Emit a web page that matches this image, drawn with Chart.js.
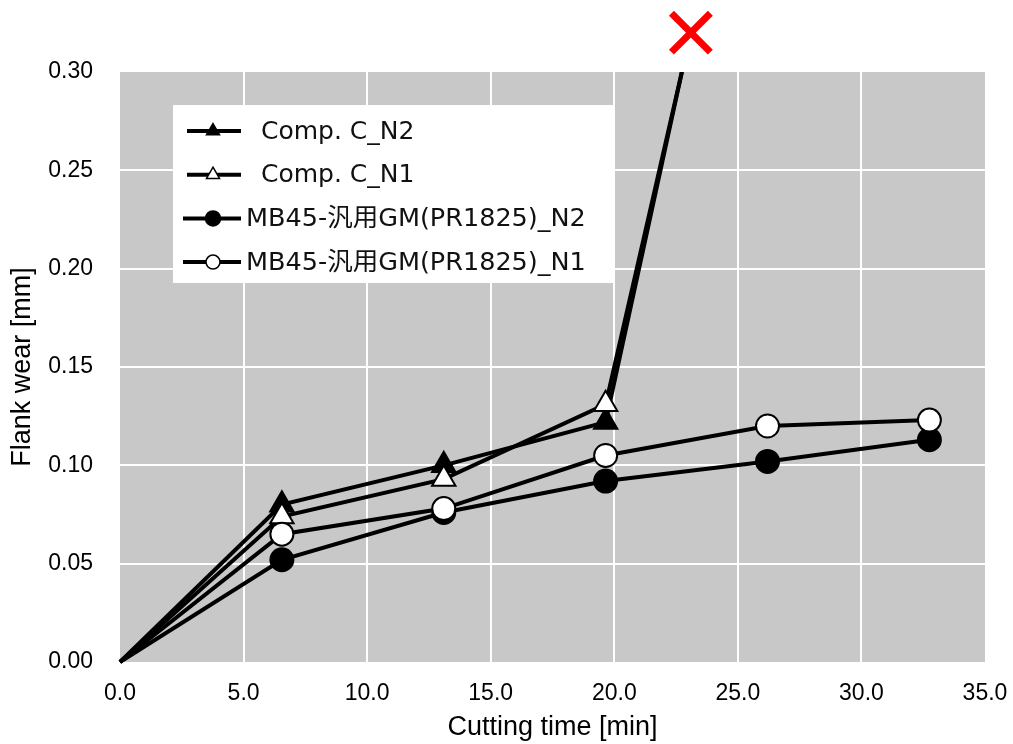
<!DOCTYPE html>
<html><head><meta charset="utf-8">
<script src="https://cdn.jsdelivr.net/npm/chart.js@4.4.1/dist/chart.umd.min.js"></script>
<style>html,body{margin:0;padding:0;background:#fff;overflow:hidden}#wrap{width:1013px;height:744px;overflow:hidden}</style>
</head><body><div id="wrap"><canvas id="c" width="1037" height="744"></canvas></div>
<script>
// ---- data ----
const seriesNames = ['Comp. C_N2', 'Comp. C_N1', 'MB45-汎用GM(PR1825)_N2', 'MB45-汎用GM(PR1825)_N1'];
const compTimes = [0, 6.55, 13.1, 19.65, 26.2];
const compN2Wear = [0, 0.080, 0.100, 0.122, 0.50];
const compN1Wear = [0, 0.074, 0.093, 0.131, 0.49];
const mbTimes = [0, 6.55, 13.1, 19.65, 26.2, 32.75];
const mbN2Wear = [0, 0.052, 0.076, 0.092, 0.102, 0.113];
const mbN1Wear = [0, 0.065, 0.078, 0.105, 0.120, 0.123];
const failureTime = [23.1];
const failureWear = [0.32];
const xTickLabels = ['0.0', '5.0', '10.0', '15.0', '20.0', '25.0', '30.0', '35.0'];
const yTickLabels = ['0.00', '0.05', '0.10', '0.15', '0.20', '0.25', '0.30'];
const xTitle = 'Cutting time [min]';
const yTitle = 'Flank wear [mm]';

const pts = (xs, ys) => xs.map((x, i) => ({x: x, y: ys[i]}));

const plotBg = {
  id: 'plotBg',
  beforeDraw(chart) {
    const {ctx, chartArea: a} = chart;
    ctx.save();
    ctx.fillStyle = '#c8c8c8';
    ctx.fillRect(a.left, a.top, a.right - a.left, a.bottom - a.top);
    ctx.restore();
  }
};

function drawMarker(ctx, style, x, y, r) {
  ctx.beginPath();
  if (style === 'triangle') {
    let rad = 0;
    ctx.moveTo(x + Math.sin(rad) * r, y - Math.cos(rad) * r);
    rad += 2 * Math.PI / 3;
    ctx.lineTo(x + Math.sin(rad) * r, y - Math.cos(rad) * r);
    rad += 2 * Math.PI / 3;
    ctx.lineTo(x + Math.sin(rad) * r, y - Math.cos(rad) * r);
    ctx.closePath();
  } else {
    ctx.arc(x, y, r, 0, Math.PI * 2);
  }
  ctx.fill();
  ctx.stroke();
}

const insideLegend = {
  id: 'insideLegend',
  afterDatasetsDraw(chart, args, o) {
    const {ctx, chartArea: a} = chart;
    const x0 = a.left + o.offsetX, y0 = a.top + o.offsetY;
    ctx.save();
    ctx.fillStyle = '#ffffff';
    ctx.fillRect(x0, y0, o.width, o.height);
    ctx.textBaseline = 'middle';
    ctx.textAlign = 'left';
    let k = 0;
    chart.data.datasets.forEach(ds => {
      if (!ds.legendEntry) return;
      const ls = ds.legendEntry;
      const cy = y0 + o.firstRow + k * o.rowGap;
      ctx.strokeStyle = ds.borderColor;
      ctx.lineWidth = o.lineWidth;
      ctx.beginPath();
      ctx.moveTo(x0 + ls.lineStart, cy);
      ctx.lineTo(x0 + o.lineEnd, cy);
      ctx.stroke();
      ctx.fillStyle = ds.pointBackgroundColor;
      ctx.strokeStyle = ds.pointBorderColor;
      ctx.lineWidth = 1.5;
      drawMarker(ctx, ds.pointStyle, x0 + o.markerX, cy, ls.markerRadius);
      ctx.fillStyle = '#111';
      ctx.font = ls.font;
      ctx.fillText(ds.label, x0 + ls.textX, cy + 1);
      k++;
    });
    ctx.restore();
  }
};

const ptRadius = (r) => (c) => c.dataIndex === 0 ? 0 : r;

const lineBase = {
  borderColor: '#000',
  borderWidth: 4,
  pointBorderColor: '#000',
  pointBorderWidth: 2,
  tension: 0,
  clip: {left: 20, right: 20, bottom: 20, top: 0}
};
const legFontA = '25px "DejaVu Sans", "Noto Sans CJK JP", sans-serif';
const legFontB = '25.5px "DejaVu Sans", "Noto Sans CJK JP", sans-serif';

new Chart(document.getElementById('c'), {
  type: 'line',
  data: {
    datasets: [
      Object.assign({}, lineBase, {
        label: seriesNames[0], data: pts(compTimes, compN2Wear),
        pointStyle: 'triangle', pointBackgroundColor: '#000', pointRadius: ptRadius(13.5),
        order: 4, legendEntry: {lineStart: 14, textX: 88, markerRadius: 7.5, font: legFontA}
      }),
      Object.assign({}, lineBase, {
        label: seriesNames[1], data: pts(compTimes, compN1Wear),
        pointStyle: 'triangle', pointBackgroundColor: '#fff', pointRadius: ptRadius(13.5),
        order: 3, legendEntry: {lineStart: 14, textX: 88, markerRadius: 7.5, font: legFontA}
      }),
      Object.assign({}, lineBase, {
        label: seriesNames[2], data: pts(mbTimes, mbN2Wear),
        pointStyle: 'circle', pointBackgroundColor: '#000', pointRadius: ptRadius(11.5),
        order: 2, legendEntry: {lineStart: 10, textX: 73, markerRadius: 7.5, font: legFontB}
      }),
      Object.assign({}, lineBase, {
        label: seriesNames[3], data: pts(mbTimes, mbN1Wear),
        pointStyle: 'circle', pointBackgroundColor: '#fff', pointRadius: ptRadius(11.5),
        order: 1, legendEntry: {lineStart: 10, textX: 73, markerRadius: 7, font: legFontB}
      }),
      {
        label: 'failure', data: pts(failureTime, failureWear),
        showLine: false, pointStyle: 'crossRot', pointRadius: 27.5, pointHoverRadius: 45,
        pointBorderColor: '#ff0000', pointBackgroundColor: '#ff0000', pointBorderWidth: 7,
        clip: false, order: 0
      }
    ]
  },
  options: {
    responsive: false,
    animation: false,
    events: [],
    layout: {padding: {top: 72, right: 29, left: 0, bottom: 0}},
    plugins: {
      legend: {display: false},
      tooltip: {enabled: false},
      insideLegend: {
        offsetX: 53, offsetY: 33, width: 440, height: 178,
        firstRow: 26, rowGap: 43.7, lineEnd: 68, markerX: 40, lineWidth: 4
      }
    },
    scales: {
      x: {
        type: 'linear', min: 0, max: 35,
        afterFit: s => { s.height = 82; s.paddingRight = 0; s.paddingLeft = 0; },
        ticks: {stepSize: 5, padding: 18, color: '#000', maxRotation: 0,
          font: {family: '"Liberation Sans", Arial, sans-serif', size: 23},
          callback: (v, i) => xTickLabels[i]},
        grid: {color: c => (c.index === 0 || c.index === xTickLabels.length - 1) ? 'rgba(0,0,0,0)' : '#ffffff',
          lineWidth: 2, drawTicks: false},
        border: {display: false},
        title: {display: true, text: xTitle, color: '#000', padding: {top: 0, bottom: 0},
          font: {family: '"Liberation Sans", Arial, sans-serif', size: 27}}
      },
      y: {
        type: 'linear', min: 0, max: 0.30,
        afterFit: s => { s.width = 120; },
        ticks: {stepSize: 0.05, padding: 27, color: '#000',
          font: {family: '"Liberation Sans", Arial, sans-serif', size: 23},
          callback: (v, i) => yTickLabels[i]},
        grid: {color: c => (c.index === 0 || c.index === yTickLabels.length - 1) ? 'rgba(0,0,0,0)' : '#ffffff',
          lineWidth: 2, drawTicks: false},
        border: {display: false},
        title: {display: true, text: yTitle, color: '#000', padding: {top: 6, bottom: 0},
          font: {family: '"Liberation Sans", Arial, sans-serif', size: 27}}
      }
    }
  },
  plugins: [plotBg, insideLegend]
});
</script>
</body></html>
